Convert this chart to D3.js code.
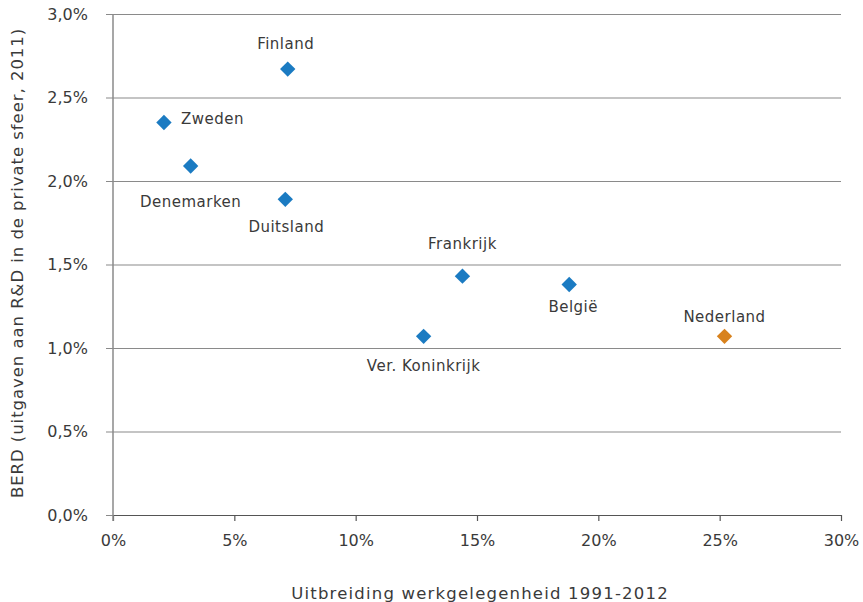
<!DOCTYPE html>
<html>
<head>
<meta charset="utf-8">
<script src="https://cdn.jsdelivr.net/npm/d3@7"></script>
<style>
  html, body { margin: 0; padding: 0; background: #fff; }
  svg { display: block; }
  text { font-family: "DejaVu Sans", sans-serif; fill: #3a3a3a; }
</style>
</head>
<body>
<svg id="chart" width="863" height="602"></svg>
<script>
// Data
const countries = ["Finland", "Zweden", "Denemarken", "Duitsland", "Frankrijk", "België", "Ver. Koninkrijk", "Nederland"];
const employmentGrowth = [7.2, 2.1, 3.2, 7.1, 14.4, 18.8, 12.8, 25.2];  // %
const berd = [2.67, 2.35, 2.09, 1.89, 1.43, 1.38, 1.07, 1.07];           // %
const highlight = [false, false, false, false, false, false, false, true];
const xTicks = [0, 5, 10, 15, 20, 25, 30];
const yTicks = [0, 0.5, 1.0, 1.5, 2.0, 2.5, 3.0];
const xTitle = "Uitbreiding werkgelegenheid 1991-2012";
const yTitle = "BERD (uitgaven aan R&D in de private sfeer, 2011)";

// Label placement (layout, not data): [dx, dy, anchor]
const labelLayout = {
  "Finland": [-2, -20, "middle"],
  "Zweden": [17, 1, "start"],
  "Denemarken": [0, 41, "middle"],
  "Duitsland": [1, 33, "middle"],
  "Frankrijk": [0, -27, "middle"],
  "België": [4, 27, "middle"],
  "Ver. Koninkrijk": [0, 35, "middle"],
  "Nederland": [0, -14, "middle"]
};

const svg = d3.select("#chart");
const margin = { left: 113, right: 22, top: 14, bottom: 87 };
const W = 863, H = 602;

const x = d3.scaleLinear().domain([0, 30]).range([margin.left, W - margin.right]);
const y = d3.scaleLinear().domain([0, 3]).range([H - margin.bottom, margin.top]);

const fmtY = d => d3.format(".1f")(d).replace(".", ",") + "%";
const fmtX = d => d + "%";

// Gridlines (y axis with long ticks)
const yAxis = d3.axisLeft(y).tickValues(yTicks).tickFormat(fmtY)
  .tickSize(-(x(30) - x(0)) - 7).tickPadding(18);
const gy = svg.append("g").attr("transform", `translate(${x(0) - 7},0)`).call(yAxis);
gy.select(".domain").remove();
gy.selectAll(".tick line").attr("stroke", "#8a8a8a").attr("stroke-width", 1.2);
gy.selectAll(".tick text").attr("x", -18).style("font-size", "16px").style("fill", "#3a3a3a")
  .style("font-family", "'DejaVu Sans', sans-serif");

// x axis
const xAxis = d3.axisBottom(x).tickValues(xTicks).tickFormat(fmtX)
  .tickSize(6).tickSizeOuter(0).tickPadding(14);
const gx = svg.append("g").attr("transform", `translate(0,${y(0)})`).call(xAxis);
gx.select(".domain").attr("stroke", "#555").attr("stroke-width", 1.2);
gx.selectAll(".tick line").attr("stroke", "#555").attr("stroke-width", 1.2);
gx.selectAll(".tick text").style("font-size", "16px").style("fill", "#3a3a3a")
  .style("font-family", "'DejaVu Sans', sans-serif");

// y axis vertical line
svg.append("line")
  .attr("x1", x(0)).attr("x2", x(0))
  .attr("y1", y(3)).attr("y2", y(0) + 6)
  .attr("stroke", "#8a8a8a").attr("stroke-width", 1.5);

// Points
const data = countries.map((c, i) => ({ name: c, x: employmentGrowth[i], y: berd[i], hl: highlight[i] }));
const diamond = d3.symbol().type(d3.symbolSquare).size(118);

svg.append("g").selectAll("path").data(data).join("path")
  .attr("d", diamond)
  .attr("transform", d => `translate(${x(d.x)},${y(d.y)}) rotate(45)`)
  .attr("fill", d => d.hl ? "#d8821d" : "#1b7bc2");

// Labels
svg.append("g").selectAll("text").data(data).join("text")
  .attr("x", d => x(d.x) + labelLayout[d.name][0])
  .attr("y", d => y(d.y) + labelLayout[d.name][1])
  .attr("text-anchor", d => labelLayout[d.name][2])
  .style("font-size", "15px")
  .style("letter-spacing", "0.5px")
  .text(d => d.name);

// Axis titles
svg.append("text")
  .attr("x", 480).attr("y", 599)
  .attr("text-anchor", "middle")
  .style("font-size", "16.5px")
  .style("letter-spacing", "1.2px")
  .text(xTitle);

svg.append("text")
  .attr("transform", `translate(23,263) rotate(-90)`)
  .attr("text-anchor", "middle")
  .style("font-size", "16.5px")
  .style("letter-spacing", "0.95px")
  .text(yTitle);
</script>
</body>
</html>
